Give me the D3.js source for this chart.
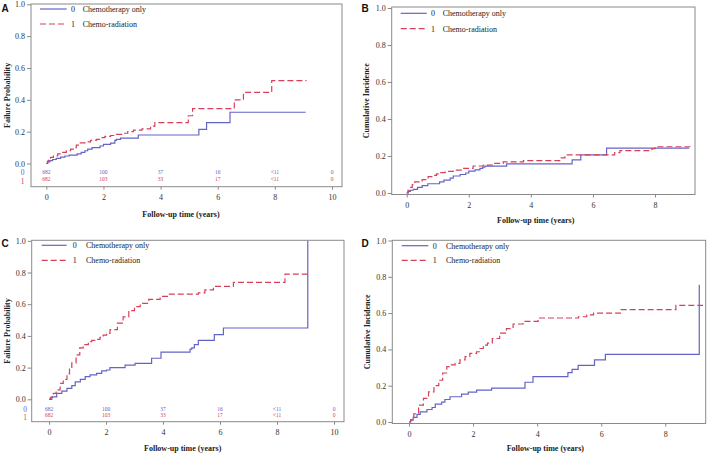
<!DOCTYPE html>
<html><head><meta charset="utf-8">
<script src="https://cdn.jsdelivr.net/npm/d3@7"></script>
<style>body{margin:0;background:#fff}svg{display:block}</style>
</head><body>
<svg id="c" width="709" height="455"></svg>
<script>
// ---------- data ----------
const seriesNames = ["Chemotherapy only", "Chemo-radiation"];
const groupCodes = ["0", "1"];
const yTicks = [0, 0.2, 0.4, 0.6, 0.8, 1.0];
const xTicks10 = [0, 2, 4, 6, 8, 10];
const xTicks8 = [0, 2, 4, 6, 8];
const riskTimes = [0, 2, 4, 6, 8, 10];
const riskChemo = ["682", "100", "37", "16", "<11", "0"];
const riskChemoRad = ["682", "103", "33", "17", "<11", "0"];

// Panel A: failure probability (time in years, probability)
const aChemo = [[0,0],[0.05,0.01],[0.12,0.018],[0.22,0.025],[0.35,0.032],[0.5,0.04],[0.65,0.047],[0.8,0.053],[1.08,0.06],[1.22,0.07],[1.35,0.08],[1.45,0.09],[1.6,0.1],[1.88,0.11],[2.0,0.12],[2.25,0.128],[2.4,0.145],[2.45,0.152],[2.6,0.16],[3.22,0.179],[5.34,0.214],[5.61,0.257],[6.43,0.322],[9.08,0.322]];
const aChemoRad = [[0,0],[0.04,0.015],[0.08,0.028],[0.15,0.038],[0.25,0.048],[0.4,0.06],[0.55,0.07],[0.7,0.08],[0.85,0.09],[0.95,0.1],[1.05,0.115],[1.15,0.13],[1.4,0.136],[1.55,0.145],[1.75,0.152],[1.9,0.162],[2.05,0.17],[2.25,0.176],[2.45,0.183],[2.7,0.19],[2.85,0.2],[3.05,0.21],[3.35,0.218],[3.65,0.235],[3.8,0.257],[4.97,0.3],[5.12,0.345],[6.58,0.4],[6.9,0.447],[7.89,0.521],[9.11,0.521]];

// Panel B: cumulative incidence
const bChemo = [[0,0],[0.05,0.008],[0.12,0.015],[0.21,0.02],[0.35,0.03],[0.5,0.04],[0.68,0.05],[1.06,0.06],[1.2,0.07],[1.4,0.08],[1.5,0.092],[1.72,0.1],[1.9,0.108],[2.0,0.118],[2.2,0.125],[2.36,0.133],[2.45,0.14],[2.52,0.145],[3.22,0.157],[5.33,0.179],[5.61,0.206],[6.44,0.243],[9.1,0.243]];
const bChemoRad = [[0,0],[0.04,0.015],[0.1,0.03],[0.18,0.045],[0.26,0.06],[0.4,0.066],[0.5,0.072],[0.69,0.088],[0.85,0.095],[0.96,0.103],[1.1,0.11],[1.24,0.117],[1.5,0.124],[1.83,0.133],[2.14,0.146],[2.47,0.151],[2.8,0.16],[3.11,0.168],[3.76,0.175],[4.98,0.19],[5.1,0.206],[6.7,0.218],[6.87,0.229],[7.9,0.24],[8.0,0.25],[9.18,0.25]];

// Panel C: failure probability
const cChemo = [[0,0],[0.1,0.015],[0.27,0.038],[0.45,0.052],[0.63,0.069],[0.8,0.086],[0.92,0.11],[1.1,0.126],[1.27,0.143],[1.44,0.154],[1.67,0.164],[1.85,0.179],[2.02,0.185],[2.14,0.2],[2.67,0.215],[3.02,0.227],[3.6,0.259],[3.93,0.298],[4.95,0.316],[5.01,0.324],[5.1,0.345],[5.24,0.372],[5.8,0.408],[6.12,0.45],[9.08,0.45],[9.08,1.0]];
const cChemoRad = [[0,0],[0.05,0.012],[0.15,0.038],[0.25,0.06],[0.39,0.1],[0.5,0.125],[0.63,0.16],[0.72,0.19],[0.8,0.23],[0.95,0.28],[1.08,0.325],[1.2,0.345],[1.38,0.364],[1.5,0.372],[1.61,0.378],[1.79,0.391],[1.9,0.405],[2.02,0.416],[2.14,0.44],[2.4,0.48],[2.6,0.52],[2.8,0.56],[3.0,0.585],[3.2,0.605],[3.5,0.63],[3.9,0.65],[4.2,0.664],[5.24,0.672],[5.47,0.69],[5.77,0.713],[6.47,0.738],[8.28,0.79],[9.1,0.79]];

// Panel D: cumulative incidence
const dChemo = [[0,0],[0.05,0.01],[0.13,0.026],[0.25,0.042],[0.35,0.056],[0.56,0.069],[0.72,0.08],[0.82,0.098],[1.02,0.11],[1.12,0.124],[1.28,0.139],[1.64,0.154],[1.85,0.165],[2.11,0.176],[2.58,0.187],[3.62,0.219],[3.87,0.25],[4.96,0.272],[5.09,0.29],[5.28,0.312],[5.79,0.342],[6.13,0.373],[9.06,0.373],[9.06,0.756]];
const dChemoRad = [[0,0],[0.05,0.012],[0.15,0.045],[0.3,0.093],[0.45,0.13],[0.61,0.166],[0.78,0.2],[0.93,0.23],[1.05,0.27],[1.18,0.305],[1.3,0.315],[1.44,0.323],[1.59,0.342],[1.75,0.36],[1.9,0.378],[2.11,0.387],[2.2,0.405],[2.32,0.424],[2.45,0.435],[2.6,0.46],[2.83,0.49],[3.04,0.515],[3.25,0.54],[3.56,0.554],[4.03,0.573],[5.29,0.58],[5.55,0.59],[5.76,0.6],[6.6,0.619],[8.33,0.643],[9.18,0.643]];

// ---------- drawing ----------
const BLUE = "#6464c8", RED = "#d8405a", FRAME = "#8a8a8a", TXT = "#333";
const SERIF = "'Liberation Serif','Times New Roman',serif";
const svg = d3.select("#c");

const panels = [
  {letter:"A", ytitle:"Failure Probability", blue:aChemo, red:aChemoRad, xTicks:xTicks10, xd:[0,10],
   l:31, r:342, t:4, b:186.7, xr:[46.3,332], yr:[163.5,4.3], risk:[172,179.3], riskLab:22.7,
   ytx:7, xtitle:[181,214.5], letterPos:[1.5,11.7], leg:{x1:40,x2:66.7,y:[9,24],code:71,text:82.7}},
  {letter:"B", ytitle:"Cumulative Incidence", blue:bChemo, red:bChemoRad, xTicks:xTicks8, xd:[0,8],
   l:391.7, r:695, t:7, b:194.5, xr:[406.7,655], yr:[193,8], risk:null,
   ytx:366.5, xtitle:[535.7,220], letterPos:[361.5,11.7], leg:{x1:400.7,x2:426.7,y:[13.3,28.7],code:431,text:442.7}},
  {letter:"C", ytitle:"Failure Probability", blue:cChemo, red:cChemoRad, xTicks:xTicks10, xd:[0,10],
   l:31.7, r:344, t:240.3, b:421.7, xr:[49,334], yr:[399.3,240.8], risk:[408.7,415.3], riskLab:25,
   ytx:7, xtitle:[182.7,448.3], letterPos:[1.5,247], leg:{x1:41.7,x2:66.7,y:[245.3,260.3],code:72.7,text:86}},
  {letter:"D", ytitle:"Cumulative Incidence", blue:dChemo, red:dChemoRad, xTicks:xTicks8, xd:[0,8],
   l:392.3, r:705.7, t:240.3, b:423.5, xr:[409,665.3], yr:[422,240.5], risk:null,
   ytx:367, xtitle:[545.3,448.3], letterPos:[361.5,246.5], leg:{x1:401.7,x2:428.3,y:[245.7,260.3],code:432.7,text:446}}
];

panels.forEach(p => {
  const g = svg.append("g");
  const x = d3.scaleLinear().domain(p.xd).range(p.xr);
  const y = d3.scaleLinear().domain([0,1]).range(p.yr);

  g.append("rect").attr("x",p.l).attr("y",p.t).attr("width",p.r-p.l).attr("height",p.b-p.t)
    .attr("fill","none").attr("stroke",FRAME).attr("stroke-width",1);

  const ya = g.append("g").attr("transform",`translate(${p.l},0)`)
    .call(d3.axisLeft(y).tickValues(yTicks).tickFormat(d3.format(".1f")).tickSize(4).tickPadding(2));
  ya.select(".domain").remove();
  ya.selectAll("line").attr("stroke",FRAME);
  ya.selectAll("text").attr("font-family",SERIF).attr("font-size",8).attr("fill",TXT).attr("x",-6);

  const xa = g.append("g").attr("transform",`translate(0,${p.b})`)
    .call(d3.axisBottom(x).tickValues(p.xTicks).tickFormat(d3.format("d")).tickSize(3));
  xa.select(".domain").remove();
  xa.selectAll("line").attr("stroke",FRAME);
  xa.selectAll("text").attr("font-family",SERIF).attr("font-size",8).attr("fill",TXT)
    .attr("y",10.8).attr("dy","0.35em");

  const line = d3.line().x(d=>x(d[0])).y(d=>y(d[1])).curve(d3.curveStepAfter);
  g.append("path").attr("d",line(p.blue)).attr("fill","none").attr("stroke",BLUE).attr("stroke-width",1.2);
  g.append("path").attr("d",line(p.red)).attr("fill","none").attr("stroke",RED).attr("stroke-width",1.2)
    .attr("stroke-dasharray","6,3");

  if (p.risk) {
    [[riskChemo,BLUE],[riskChemoRad,RED]].forEach(([arr,col],i) => {
      g.selectAll(null).data(arr).enter().append("text")
        .attr("x",(d,j)=>x(riskTimes[j])).attr("y",p.risk[i]).attr("dy","0.35em")
        .attr("text-anchor","middle").attr("font-family",SERIF).attr("font-size",5.5).attr("fill",col).text(d=>d);
      g.append("text").attr("x",p.riskLab).attr("y",p.risk[i]+(i?2:0.5)).attr("dy","0.35em")
        .attr("text-anchor","middle").attr("font-family",SERIF).attr("font-size",7.5).attr("fill",col).text(groupCodes[i]);
    });
  }

  g.append("text").attr("transform",`translate(${p.ytx},${(p.t+p.b)/2}) rotate(-90)`)
    .attr("text-anchor","middle").attr("dy","0.35em").attr("font-family",SERIF).attr("font-weight","bold")
    .attr("font-size",8).attr("fill","#222").text(p.ytitle);
  g.append("text").attr("x",p.xtitle[0]).attr("y",p.xtitle[1]).attr("dy","0.35em")
    .attr("text-anchor","middle").attr("font-family",SERIF).attr("font-weight","bold")
    .attr("font-size",8).attr("fill","#222").text("Follow-up time (years)");
  g.append("text").attr("x",p.letterPos[0]).attr("y",p.letterPos[1])
    .attr("font-family","'Liberation Sans',Arial,sans-serif").attr("font-weight","bold")
    .attr("font-size",10).attr("fill","#111").text(p.letter);

  const L = p.leg;
  [[BLUE,null],[RED,"6,3"]].forEach(([col,dash],i) => {
    const ln = g.append("line").attr("x1",L.x1).attr("x2",L.x2).attr("y1",L.y[i]).attr("y2",L.y[i])
      .attr("stroke",col).attr("stroke-width",1.2);
    if (dash) ln.attr("stroke-dasharray",dash);
    g.append("text").attr("x",L.code).attr("y",L.y[i]).attr("dy","0.35em").attr("font-family",SERIF)
      .attr("font-size",8).attr("fill","#222").text(groupCodes[i]);
    g.append("text").attr("x",L.text).attr("y",L.y[i]).attr("dy","0.35em").attr("font-family",SERIF)
      .attr("font-size",8).attr("fill","#222").text(seriesNames[i]);
  });
});
</script>
</body></html>
